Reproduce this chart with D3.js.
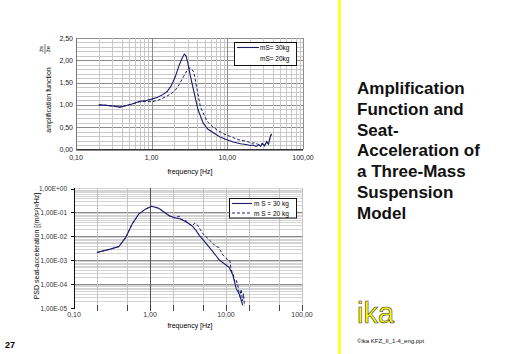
<!DOCTYPE html>
<html>
<head>
<meta charset="utf-8">
<script src="https://cdn.jsdelivr.net/npm/d3@7"></script>
<style>
  body { margin: 0; background: #fff; }
  svg { font-family: "Liberation Sans", Arial, sans-serif; }
</style>
</head>
<body>
<svg width="512" height="354"></svg>
<script>
// amplification function (top chart)
const ampFreq30 = [0.2,0.25,0.3,0.38,0.45,0.55,0.7,0.85,1.0,1.2,1.4,1.6,1.8,2.05,2.3,2.5,2.7,2.85,3.0,3.2,3.45,3.7,4.1,4.8,5.5,6.6,8,9.9,12,15,18.3,20,22,24,26,27.5,29,31,33,35,37,38.5];
const ampVal30  = [1.00,0.99,0.98,0.95,0.98,1.02,1.08,1.10,1.13,1.17,1.23,1.30,1.42,1.63,1.88,2.03,2.14,2.10,1.95,1.70,1.45,1.22,0.89,0.59,0.46,0.37,0.28,0.22,0.17,0.13,0.105,0.09,0.10,0.07,0.11,0.07,0.13,0.08,0.18,0.12,0.29,0.35];
const ampFreq20 = [0.2,0.25,0.3,0.38,0.45,0.55,0.7,0.85,1.0,1.2,1.4,1.6,1.8,2.05,2.3,2.63,2.9,3.1,3.25,3.4,3.6,4.0,4.4,5.4,6.3,7.3,9,11,14,18.3,21,23,25,27.5,29,31,33,35,37,38.5];
const ampVal20  = [1.00,0.99,0.97,0.95,0.98,1.02,1.07,1.08,1.07,1.10,1.15,1.20,1.25,1.33,1.45,1.63,1.76,1.82,1.83,1.80,1.74,1.33,0.96,0.63,0.52,0.44,0.35,0.29,0.22,0.18,0.14,0.15,0.12,0.105,0.14,0.09,0.17,0.12,0.30,0.35];

// PSD seat acceleration (bottom chart)
const psdFreq30 = [0.2,0.3,0.39,0.48,0.58,0.71,0.88,1.05,1.3,1.79,2.1,2.42,2.8,3.2,3.63,4.0,4.46,5.47,6.7,8.2,10,11,12.3,13.6,15.1,16.6];
const psdVal30  = [2.1e-3,2.9e-3,3.7e-3,9e-3,0.032,0.085,0.14,0.18,0.15,0.072,0.06,0.055,0.045,0.035,0.026,0.018,0.011,5.1e-3,2.3e-3,1e-3,6.3e-4,5e-4,2.4e-4,6.6e-5,3.5e-5,1.3e-5];
const psdFreq20 = [0.2,0.3,0.39,0.48,0.58,0.71,0.88,1.05,1.3,1.79,2.1,2.42,2.6,2.97,3.3,3.63,3.9,4.2,4.46,4.93,6.04,6.7,7.4,8.0,9.1,10.6,11.2,11.7,12.5,13.0,13.6,14.3,15.2,15.8,16.5,17.0,17.5];
const psdVal20  = [2.1e-3,2.9e-3,3.7e-3,9e-3,0.032,0.085,0.14,0.18,0.15,0.072,0.06,0.07,0.05,0.045,0.032,0.028,0.036,0.03,0.022,0.0133,7e-3,5.1e-3,3.7e-3,3.5e-3,1.65e-3,1e-3,1e-3,3.9e-4,2.5e-4,1.26e-4,1.5e-4,9e-5,3e-5,6e-5,2e-5,4e-5,1.2e-5];

const freqTicks = [0.1, 1, 10, 100];
const freqLabels = ["0,10", "1,00", "10,00", "100,00"];
const ampTicks = [0, 0.5, 1, 1.5, 2, 2.5];
const ampLabels = ["0,00", "0,50", "1,00", "1,50", "2,00", "2,50"];
const psdTicks = [1, 1e-1, 1e-2, 1e-3, 1e-4, 1e-5];
const psdLabels = ["1,00E+00", "1,00E-01", "1,00E-02", "1,00E-03", "1,00E-04", "1,00E-05"];
const series = ["mS= 30kg", "mS= 20kg"];
const seriesPsd = ["m S = 30 kg", "m S = 20 kg"];
const titleLines = ["Amplification", "Function and", "Seat-", "Acceleration of", "a Three-Mass", "Suspension", "Model"];

const svg = d3.select("svg");
const navy = "#1c1c6c";

// minor log values 0.1 .. 100
const logMinor = [];
[0.1, 1, 10].forEach(d => { for (let k = 1; k <= 10; k++) logMinor.push(+(d * k).toPrecision(3)); });

// ---------- top chart ----------
const xTop = d3.scaleLog().domain([0.1, 100]).range([76, 303]);
const yTop = d3.scaleLinear().domain([0, 2.5]).range([149.5, 38]);
const gTop = svg.append("g");

gTop.selectAll(".hg").data(d3.range(0, 26).map(i => i / 10)).join("line")
  .attr("x1", 76).attr("x2", 303)
  .attr("y1", d => Math.round(yTop(d)) + 0.5).attr("y2", d => Math.round(yTop(d)) + 0.5)
  .attr("stroke", (d, i) => i % 5 === 0 ? "#8c8c8c" : "#c8c8c8").attr("stroke-width", 1);
gTop.selectAll(".vg").data(logMinor).join("line")
  .attr("x1", d => Math.round(xTop(d)) + 0.5).attr("x2", d => Math.round(xTop(d)) + 0.5)
  .attr("y1", 38).attr("y2", 149.5)
  .attr("stroke", d => freqTicks.includes(d) ? "#8c8c8c" : "#c8c8c8");
gTop.append("line").attr("x1", 76).attr("x2", 303).attr("y1", 149.5).attr("y2", 149.5).attr("stroke", "#333");
gTop.append("line").attr("x1", 76.5).attr("x2", 76.5).attr("y1", 38).attr("y2", 150).attr("stroke", "#777");

gTop.selectAll(".yl").data(ampTicks).join("text")
  .attr("x", 73).attr("y", d => yTop(d) + 2.5).attr("text-anchor", "end")
  .attr("font-size", "7px").attr("fill", "#222").text((d, i) => ampLabels[i]);
gTop.selectAll(".xl").data(freqTicks).join("text")
  .attr("x", d => xTop(d)).attr("y", 160).attr("text-anchor", "middle")
  .attr("font-size", "7px").attr("fill", "#222").text((d, i) => freqLabels[i]);
gTop.append("text").attr("x", 190).attr("y", 174).attr("text-anchor", "middle")
  .attr("font-size", "7px").text("frequency [Hz]");
gTop.append("text").attr("transform", "translate(51,100) rotate(-90)").attr("text-anchor", "middle")
  .attr("font-size", "7px").text("amplification function");
// fraction z_s / z_e
const frac = gTop.append("g").attr("transform", "translate(45,49) rotate(-90)");
frac.append("text").attr("x", 0).attr("y", -2).attr("text-anchor", "middle").attr("font-size", "6px").text("z\u0308s");
frac.append("line").attr("x1", -5).attr("x2", 5).attr("y1", 0).attr("y2", 0).attr("stroke", "#222").attr("stroke-width", 0.6);
frac.append("text").attr("x", 0).attr("y", 5).attr("text-anchor", "middle").attr("font-size", "6px").text("z\u0308e");

const lineTop = d3.line().x(d => xTop(d[0])).y(d => yTop(d[1]));
gTop.append("path").datum(d3.zip(ampFreq30, ampVal30)).attr("d", lineTop)
  .attr("fill", "none").attr("stroke", navy).attr("stroke-width", 1.1);
gTop.append("path").datum(d3.zip(ampFreq20, ampVal20)).attr("d", lineTop)
  .attr("fill", "none").attr("stroke", navy).attr("stroke-width", 1).attr("stroke-dasharray", "3,2");

const legTop = gTop.append("g");
legTop.append("rect").attr("x", 234.5).attr("y", 42.5).attr("width", 62).attr("height", 23)
  .attr("fill", "#fff").attr("stroke", "#111");
legTop.append("line").attr("x1", 237).attr("x2", 259).attr("y1", 47.5).attr("y2", 47.5).attr("stroke", navy).attr("stroke-width", 1.1);
legTop.selectAll("text").data(series).join("text")
  .attr("x", 260).attr("y", (d, i) => 50 + i * 11).attr("font-size", "6.5px").text(d => d);

// ---------- bottom chart ----------
const xBot = d3.scaleLog().domain([0.1, 100]).range([74, 302]);
const yBot = d3.scaleLog().domain([1e-5, 1]).range([308, 188.5]);
const gBot = svg.append("g");
const psdMinor = [];
[1e-5, 1e-4, 1e-3, 1e-2, 1e-1].forEach(d => { for (let k = 1; k <= 9; k++) psdMinor.push(d * k); });
const xBotGrid = [0.2, 0.5, 1, 2, 5, 10, 20, 50, 100];

gBot.selectAll(".hg").data(psdMinor.filter(d => d > 1.5e-5)).join("line")
  .attr("x1", 74).attr("x2", 302)
  .attr("y1", d => Math.round(yBot(d)) + 0.5).attr("y2", d => Math.round(yBot(d)) + 0.5)
  .attr("stroke", d => psdTicks.some(t => Math.abs(t - d) / t < 1e-6) ? "#8a8a8a" : "#d4d4d4");
gBot.append("line").attr("x1", 74).attr("x2", 302).attr("y1", 188.5).attr("y2", 188.5).attr("stroke", "#d4d4d4");
gBot.selectAll(".vg").data(xBotGrid).join("line")
  .attr("x1", d => Math.round(xBot(d)) + 0.5).attr("x2", d => Math.round(xBot(d)) + 0.5)
  .attr("y1", 188).attr("y2", 308)
  .attr("stroke", d => d === 1 ? "#555" : "#c4c4c4");
gBot.selectAll(".xt").data(xBotGrid).join("line")
  .attr("x1", d => Math.round(xBot(d)) + 0.5).attr("x2", d => Math.round(xBot(d)) + 0.5)
  .attr("y1", 305).attr("y2", 311).attr("stroke", "#444");
gBot.append("line").attr("x1", 74.5).attr("x2", 74.5).attr("y1", 188).attr("y2", 309).attr("stroke", "#111");
gBot.selectAll(".yt").data(psdTicks).join("line")
  .attr("x1", 71).attr("x2", 75).attr("y1", d => Math.round(yBot(d)) + 0.5).attr("y2", d => Math.round(yBot(d)) + 0.5)
  .attr("stroke", "#111");

gBot.selectAll(".yl").data(psdTicks).join("text")
  .attr("x", 67).attr("y", d => yBot(d) + 2.5).attr("text-anchor", "end")
  .attr("font-size", "6.5px").attr("fill", "#333").text((d, i) => psdLabels[i]);
gBot.selectAll(".xl").data(freqTicks).join("text")
  .attr("x", d => xBot(d)).attr("y", 317).attr("text-anchor", "middle")
  .attr("font-size", "7px").attr("fill", "#333").text((d, i) => freqLabels[i]);
gBot.append("text").attr("x", 190).attr("y", 328).attr("text-anchor", "middle")
  .attr("font-size", "7px").text("frequency [Hz]");
gBot.append("text").attr("transform", "translate(39,246) rotate(-90)").attr("text-anchor", "middle")
  .attr("font-size", "7px").text("PSD seat-acceleration [(m/s\u00b2)\u00b2/Hz]");

const lineBot = d3.line().x(d => xBot(d[0])).y(d => yBot(d[1]));
gBot.append("path").datum(d3.zip(psdFreq30, psdVal30)).attr("d", lineBot)
  .attr("fill", "none").attr("stroke", navy).attr("stroke-width", 1.1);
gBot.append("path").datum(d3.zip(psdFreq20, psdVal20)).attr("d", lineBot)
  .attr("fill", "none").attr("stroke", navy).attr("stroke-width", 1).attr("stroke-dasharray", "3,2");

const legBot = gBot.append("g");
legBot.append("rect").attr("x", 229.5).attr("y", 198.5).attr("width", 67).attr("height", 19.5)
  .attr("fill", "#fff").attr("stroke", "#111");
legBot.append("line").attr("x1", 232).attr("x2", 252).attr("y1", 203.5).attr("y2", 203.5).attr("stroke", navy).attr("stroke-width", 1.1);
legBot.append("line").attr("x1", 232).attr("x2", 252).attr("y1", 213).attr("y2", 213).attr("stroke", navy).attr("stroke-dasharray", "3,2");
legBot.selectAll("text").data(seriesPsd).join("text")
  .attr("x", 254).attr("y", (d, i) => 206 + i * 9.5).attr("font-size", "6.5px").text(d => d);

// ---------- slide decoration ----------
svg.append("rect").attr("x", 338).attr("y", 0).attr("width", 3).attr("height", 354).attr("fill", "#ffff30");
svg.append("g").selectAll("text").data(titleLines).join("text")
  .attr("x", 357).attr("y", (d, i) => 94 + i * 20.8)
  .attr("font-size", "17px").attr("font-weight", "bold").attr("fill", "#111").text(d => d);
svg.append("text").attr("x", 357).attr("y", 323).attr("font-size", "29px")
  .attr("fill", "#ffff00").attr("stroke", "#333").attr("stroke-width", 0.6).text("ika");
svg.append("text").attr("x", 357).attr("y", 343).attr("font-size", "6px").attr("fill", "#111")
  .text("\u00a9ika KFZ_II_1-4_eng.ppt");
svg.append("text").attr("x", 5).attr("y", 348).attr("font-size", "9px").attr("font-weight", "bold").text("27");
</script>
</body>
</html>
